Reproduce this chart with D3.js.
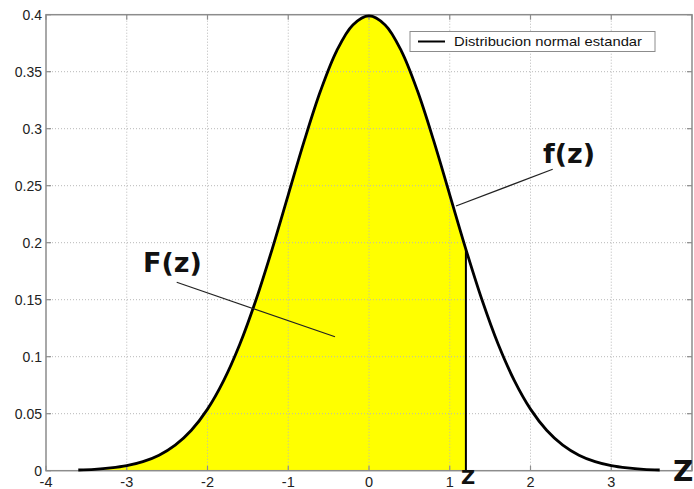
<!DOCTYPE html>
<html>
<head>
<meta charset="utf-8">
<script src="https://cdn.jsdelivr.net/npm/d3@7"></script>
<style>
  html, body { margin: 0; padding: 0; background: #fff; }
  svg { display: block; }
</style>
</head>
<body>
<svg id="chart" width="694" height="489"></svg>
<script>
// ---- data ----
const zValues = [-3.6,-3.4,-3.2,-3.0,-2.8,-2.6,-2.4,-2.2,-2.0,-1.8,-1.6,-1.4,-1.2,-1.0,-0.8,-0.6,-0.4,-0.2,0,
                 0.2,0.4,0.6,0.8,1.0,1.2,1.4,1.6,1.8,2.0,2.2,2.4,2.6,2.8,3.0,3.2,3.4,3.6];
const densityValues = [0.0006,0.0012,0.0024,0.0044,0.0079,0.0136,0.0224,0.0355,0.0540,0.0790,0.1109,0.1497,0.1942,0.2420,0.2897,0.3332,0.3683,0.3910,0.3989,
                       0.3910,0.3683,0.3332,0.2897,0.2420,0.1942,0.1497,0.1109,0.0790,0.0540,0.0355,0.0224,0.0136,0.0079,0.0044,0.0024,0.0012,0.0006];
const zCut = 1.2;
const xTicks = [-4,-3,-2,-1,0,1,2,3,4];
const xTickLabels = ["-4","-3","-2","-1","0","1","2","3",""];
const yTicks = [0,0.05,0.1,0.15,0.2,0.25,0.3,0.35,0.4];
const yTickLabels = ["0","0.05","0.1","0.15","0.2","0.25","0.3","0.35","0.4"];
const legendLabel = "Distribucion normal estandar";

const svg = d3.select("#chart");
const pL = 46, pR = 692, pT = 14.7, pB = 470.7;
const x = d3.scaleLinear().domain([-4, 4]).range([pL, pR]);
const y = d3.scaleLinear().domain([0, 0.4]).range([pB, pT]);

const pts = zValues.map((z, i) => ({z, f: densityValues[i]}));
const fillPts = pts.filter(p => p.z <= zCut + 1e-9);

// yellow area
svg.append("path")
  .datum(fillPts)
  .attr("fill", "#ffff00")
  .attr("d", d3.area().x(d => x(d.z)).y0(y(0)).y1(d => y(d.f)).curve(d3.curveCatmullRom));

// grid
const grid = svg.append("g").attr("stroke", "#b8b8b8").attr("stroke-width", 1).attr("stroke-dasharray", "1,2");
xTicks.slice(1, -1).forEach(t => grid.append("line").attr("x1", x(t)).attr("x2", x(t)).attr("y1", pT).attr("y2", pB));
yTicks.slice(1, -1).forEach(t => grid.append("line").attr("x1", pL).attr("x2", pR).attr("y1", y(t)).attr("y2", y(t)));

// frame
svg.append("rect").attr("x", pL).attr("y", pT).attr("width", pR - pL).attr("height", pB - pT)
  .attr("fill", "none").attr("stroke", "#8c8c8c").attr("stroke-width", 1.5);

// ticks inside
const tk = svg.append("g").attr("stroke", "#8c8c8c").attr("stroke-width", 1.2);
xTicks.forEach(t => {
  tk.append("line").attr("x1", x(t)).attr("x2", x(t)).attr("y1", pB).attr("y2", pB - 5);
  tk.append("line").attr("x1", x(t)).attr("x2", x(t)).attr("y1", pT).attr("y2", pT + 5);
});
yTicks.forEach(t => {
  tk.append("line").attr("x1", pL).attr("x2", pL + 5).attr("y1", y(t)).attr("y2", y(t));
  tk.append("line").attr("x1", pR).attr("x2", pR - 5).attr("y1", y(t)).attr("y2", y(t));
});

// tick labels
const tf = "Liberation Sans, Arial, sans-serif";
svg.append("g").selectAll("text").data(xTicks).join("text")
  .attr("x", d => x(d)).attr("y", 487)
  .attr("text-anchor", "middle").attr("font-family", tf).attr("font-size", 14.5).attr("fill", "#222")
  .text((d, i) => xTickLabels[i]);
svg.append("g").selectAll("text").data(yTicks).join("text")
  .attr("x", 42).attr("y", d => y(d) + 5)
  .attr("text-anchor", "end").attr("font-family", tf).attr("font-size", 14).attr("fill", "#222")
  .text((d, i) => yTickLabels[i]);

// curve
svg.append("path")
  .datum(pts)
  .attr("fill", "none").attr("stroke", "#000").attr("stroke-width", 2.8)
  .attr("d", d3.line().x(d => x(d.z)).y(d => y(d.f)).curve(d3.curveCatmullRom));

// vertical cut line
const fCut = densityValues[zValues.indexOf(zCut)];
svg.append("line").attr("x1", x(zCut)).attr("x2", x(zCut)).attr("y1", y(0)).attr("y2", y(fCut))
  .attr("stroke", "#000").attr("stroke-width", 2);

// legend
svg.append("rect").attr("x", 410).attr("y", 31.5).attr("width", 245).attr("height", 20)
  .attr("fill", "#fff").attr("stroke", "#8c8c8c").attr("stroke-width", 1);
svg.append("line").attr("x1", 418).attr("x2", 445).attr("y1", 41.5).attr("y2", 41.5)
  .attr("stroke", "#000").attr("stroke-width", 2);
svg.append("text").attr("x", 454).attr("y", 46).attr("font-family", tf).attr("font-size", 13.5)
  .attr("textLength", 188).attr("lengthAdjust", "spacingAndGlyphs").attr("fill", "#111").text(legendLabel);

// annotations
const af = "DejaVu Sans, sans-serif";
svg.append("text").attr("x", 543).attr("y", 163).attr("font-family", af).attr("font-weight", "bold")
  .attr("font-size", 27).attr("fill", "#111").text("f(z)");
svg.append("line").attr("x1", 552.7).attr("y1", 169.3).attr("x2", 456).attr("y2", 206)
  .attr("stroke", "#222").attr("stroke-width", 1.2);
svg.append("text").attr("x", 143).attr("y", 272).attr("font-family", af).attr("font-weight", "bold")
  .attr("font-size", 27).attr("fill", "#111").text("F(z)");
svg.append("line").attr("x1", 176.7).attr("y1", 282.3).attr("x2", 335).attr("y2", 336.7)
  .attr("stroke", "#222").attr("stroke-width", 1.2);
svg.append("text").attr("x", 461).attr("y", 484.3).attr("font-family", af).attr("font-weight", "bold")
  .attr("font-size", 19.5).attr("fill", "#111").text("Z");
svg.append("text").attr("x", 673).attr("y", 481).attr("font-family", af).attr("font-weight", "bold")
  .attr("font-size", 28).attr("fill", "#111").text("Z");
</script>
</body>
</html>
